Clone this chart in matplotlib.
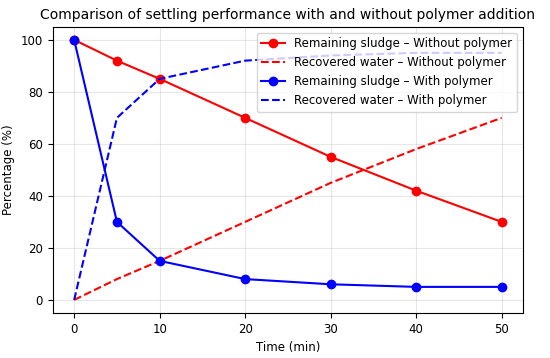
import numpy as np
import matplotlib
matplotlib.use("Agg")
import matplotlib.pyplot as plt

# settling data
time_min = [0, 5, 10, 20, 30, 40, 50]
sludge_without = [100, 92, 85, 70, 55, 42, 30]
water_without = [0, 8, 15, 30, 45, 58, 70]
sludge_with = [100, 30, 15, 8, 6, 5, 5]
water_with = [0, 70, 85, 92, 94, 95, 95]

fig = plt.figure(figsize=(5.5, 3.58), dpi=100)
ax = fig.add_axes([0.096, 0.126, 0.855, 0.799])

ax.plot(time_min, sludge_without, color='red', marker='o', markersize=6, lw=1.5,
        label='Remaining sludge – Without polymer')
ax.plot(time_min, water_without, color='red', ls='--', lw=1.5,
        label='Recovered water – Without polymer')
ax.plot(time_min, sludge_with, color='blue', marker='o', markersize=6, lw=1.5,
        label='Remaining sludge – With polymer')
ax.plot(time_min, water_with, color='blue', ls='--', lw=1.5,
        label='Recovered water – With polymer')

ax.set_title('Comparison of settling performance with and without polymer addition', fontsize=10)
ax.set_xlabel('Time (min)', fontsize=8.5)
ax.set_ylabel('Percentage (%)', fontsize=8.5)
ax.tick_params(labelsize=8.5)
ax.set_xticks([0, 10, 20, 30, 40, 50])
ax.grid(True, alpha=0.3)
ax.legend(loc='upper right', fontsize=8.5)

fig.savefig('out.png')
